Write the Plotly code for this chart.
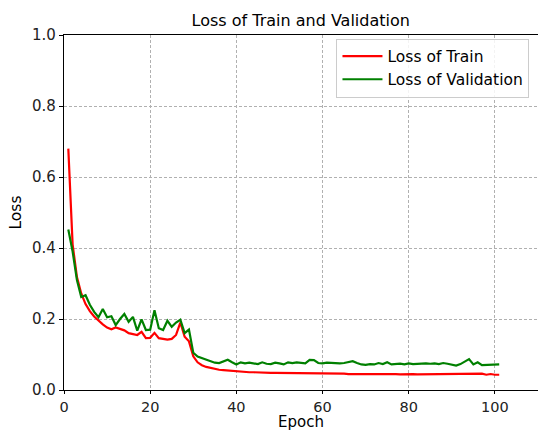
import plotly.graph_objects as go

epochs = list(range(1, 102))

train_loss = [
    0.680, 0.410, 0.318, 0.272, 0.242, 0.222, 0.207, 0.195, 0.185, 0.176,
    0.171, 0.176, 0.172, 0.168, 0.160, 0.158, 0.155, 0.164, 0.146, 0.147,
    0.161, 0.146, 0.143, 0.142, 0.144, 0.155, 0.190, 0.150, 0.137, 0.095,
    0.078, 0.070, 0.065, 0.062, 0.059, 0.057, 0.056, 0.055, 0.053, 0.051,
    0.052, 0.051, 0.050, 0.050, 0.049, 0.049, 0.049, 0.048, 0.048, 0.048,
    0.048, 0.048, 0.047, 0.047, 0.047, 0.047, 0.047, 0.047, 0.046, 0.046,
    0.046, 0.046, 0.046, 0.046, 0.046, 0.045, 0.046, 0.045, 0.045, 0.045,
    0.045, 0.047, 0.046, 0.045, 0.045, 0.046, 0.045, 0.044, 0.045, 0.045,
    0.045, 0.044, 0.044, 0.045, 0.044, 0.044, 0.045, 0.044, 0.044, 0.044,
    0.044, 0.045, 0.044, 0.044, 0.046, 0.044, 0.046, 0.043, 0.045, 0.043,
    0.043,
]

val_loss = [
    0.452, 0.390, 0.310, 0.262, 0.267, 0.240, 0.220, 0.205, 0.228, 0.205,
    0.208, 0.183, 0.200, 0.214, 0.192, 0.206, 0.167, 0.199, 0.169, 0.170,
    0.225, 0.174, 0.169, 0.195, 0.178, 0.190, 0.198, 0.160, 0.170, 0.105,
    0.094, 0.090, 0.085, 0.080, 0.077, 0.076, 0.080, 0.085, 0.078, 0.072,
    0.078, 0.075, 0.077, 0.074, 0.073, 0.078, 0.074, 0.073, 0.077, 0.075,
    0.072, 0.078, 0.076, 0.078, 0.077, 0.075, 0.085, 0.084, 0.076, 0.075,
    0.077, 0.076, 0.077, 0.075, 0.076, 0.079, 0.081, 0.076, 0.072, 0.071,
    0.073, 0.072, 0.076, 0.073, 0.078, 0.072, 0.073, 0.074, 0.072, 0.075,
    0.073, 0.074, 0.076, 0.075, 0.074, 0.075, 0.073, 0.076, 0.074, 0.071,
    0.069, 0.073, 0.079, 0.087, 0.072, 0.078, 0.070, 0.071, 0.070, 0.072,
    0.072,
]

x_ticks = [0, 20, 40, 60, 80, 100]
y_ticks = [0.0, 0.2, 0.4, 0.6, 0.8, 1.0]
y_tick_labels = ["0.0", "0.2", "0.4", "0.6", "0.8", "1.0"]

FONT = "DejaVu Sans"

fig = go.Figure()
fig.add_trace(go.Scatter(x=epochs, y=train_loss, mode="lines", name="Loss of Train",
                         line=dict(color="#ff0000", width=2.2)))
fig.add_trace(go.Scatter(x=epochs, y=val_loss, mode="lines", name="Loss of Validation",
                         line=dict(color="#008000", width=2.2)))

axis_common = dict(
    showline=True, linecolor="black", linewidth=1.2, mirror=True,
    ticks="outside", tickwidth=1.1, tickcolor="black",
    showgrid=True, gridcolor="#b0b0b0", griddash="3px,2px", gridwidth=1,
    zeroline=False,
)

fig.update_layout(
    width=538, height=432,
    margin=dict(l=64, r=0, t=35, b=42),
    paper_bgcolor="white", plot_bgcolor="white",
    font=dict(family=FONT, size=15, color="black"),
    title=dict(text="Loss of Train and Validation", x=0.5590, xanchor="center",
               y=1 - 20.5 / 432, yanchor="middle",
               font=dict(family=FONT, size=16, color="black")),
    xaxis=dict(range=[0, 110], tickvals=x_ticks, ticklen=3,
               tickfont=dict(family=FONT, size=14.5, color="#222222"), **axis_common),
    yaxis=dict(range=[0, 1.0], tickvals=y_ticks, ticktext=y_tick_labels, ticklen=4,
               tickfont=dict(family=FONT, size=15, color="#222222"),
               title=dict(text="Loss", standoff=6, font=dict(family=FONT, size=15.5)),
               **axis_common),
    legend=dict(x=0.982, y=0.99, xanchor="right", yanchor="top",
                bgcolor="rgba(255,255,255,0.85)", bordercolor="#cccccc", borderwidth=1,
                font=dict(family=FONT, size=15.5, color="black"), itemwidth=40),
    showlegend=True,
)

fig.add_annotation(text="Epoch", xref="paper", yref="paper", x=0.5, y=-42 / 355,
                   xanchor="center", yanchor="bottom", showarrow=False, borderpad=0,
                   font=dict(family=FONT, size=15, color="black"))

fig.write_html("out.html")
